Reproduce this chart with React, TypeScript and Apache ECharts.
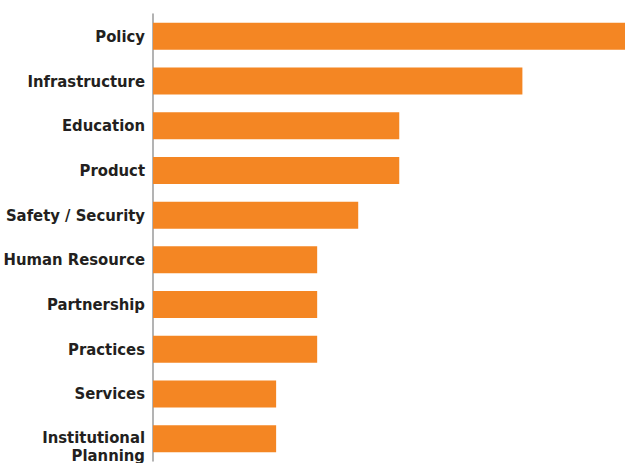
import React, { useEffect, useRef } from "react";
import * as echarts from "echarts";

const categories = [
  "Policy",
  "Infrastructure",
  "Education",
  "Product",
  "Safety / Security",
  "Human Resource",
  "Partnership",
  "Practices",
  "Services",
  "Institutional Planning",
];
const values = [12, 9, 6, 6, 5, 4, 4, 4, 3, 3];

const labelFont = {
  fontFamily: "'DejaVu Sans Condensed', sans-serif",
  fontWeight: "bold" as const,
  fontSize: 16.5,
  color: "#231f20",
  lineHeight: 20,
};

export default function App() {
  const ref = useRef<HTMLDivElement>(null);
  useEffect(() => {
    document.body.style.margin = "0";
    const chart = echarts.init(ref.current!, null, { renderer: "svg" });
    chart.setOption({
      animation: false,
      grid: {
        left: 153,
        right: 0,
        top: 14,
        bottom: 2,
        containLabel: false,
        outerBoundsMode: "none",
      },
      xAxis: {
        type: "value",
        min: 0,
        max: 11.5,
        show: false,
      },
      yAxis: {
        type: "category",
        data: categories,
        inverse: true,
        axisLine: { show: true, lineStyle: { color: "#9a9a9a", width: 1.5 } },
        axisTick: { show: false },
        splitLine: { show: false },
        axisLabel: {
          margin: 8,
          ...labelFont,
          formatter: (v: string) => {
            const parts = v.split(" ");
            if (v === "Institutional Planning") {
              return `{p|${parts[0]}}\n{q|${parts[1]}}`;
            }
            return v;
          },
          rich: {
            p: { ...labelFont, lineHeight: 34, verticalAlign: "bottom" },
            q: { ...labelFont },
          },
        },
      },
      series: [
        {
          type: "bar",
          data: values,
          barWidth: 27,
          clip: true,
          itemStyle: { color: "#F48623" },
        },
      ],
    });
    return () => chart.dispose();
  }, []);
  return <div ref={ref} style={{ width: 625, height: 463 }} />;
}
